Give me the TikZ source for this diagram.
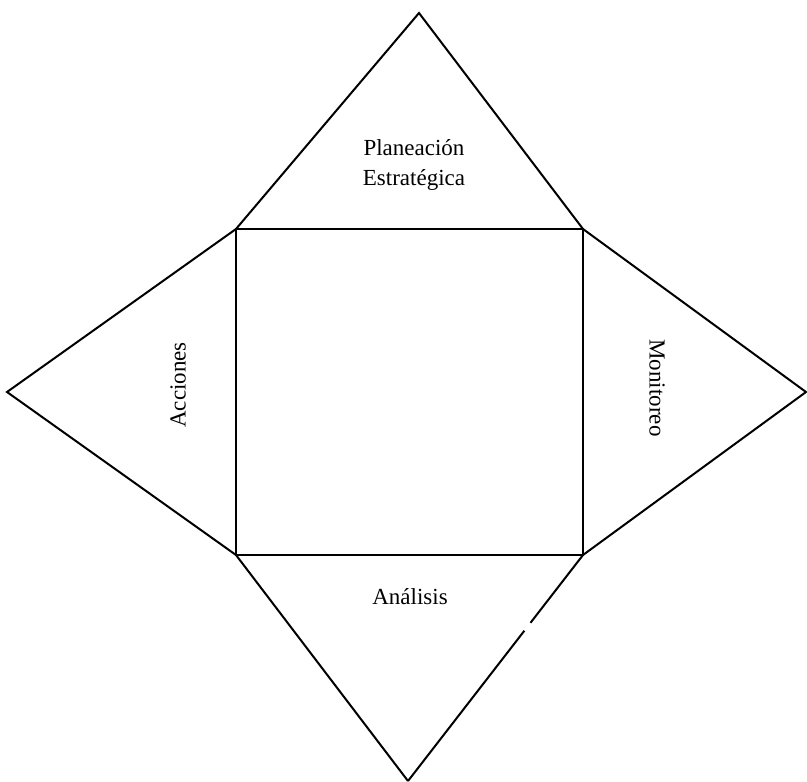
\documentclass[tikz,border=0pt]{standalone}
\usepackage{fontspec}
\setmainfont{Liberation Serif}
\usetikzlibrary{calc}
\begin{document}
\begin{tikzpicture}[x=1pt,y=-1pt,
  edge/.style={line width=2pt,line join=miter},
  lbl/.style={font=\fontsize{23}{30.6}\selectfont,align=center,inner sep=0pt}]
\useasboundingbox (0,0) rectangle (807,782);
\coordinate (tl) at (236,229);
\coordinate (tr) at (583,229);
\coordinate (br) at (583,555);
\coordinate (bl) at (236,555);
\coordinate (top) at (419,13);
\coordinate (left) at (7,392);
\coordinate (right) at (806,392);
\coordinate (bot) at (408,781);
\coordinate (gapA) at ($(br)!0.30!(bot)$);
\coordinate (gapB) at ($(br)!0.335!(bot)$);
\draw[edge] (tl) rectangle (br);
\draw[edge] (tl) -- (top) -- (tr);
\draw[edge] (tl) -- (left) -- (bl);
\draw[edge] (tr) -- (right) -- (br);
\draw[edge] (bl) -- (bot);
\draw[edge] (br) -- (gapA);
\draw[edge] (gapB) -- (bot);
\node[lbl] (plan) at (414,165) {Planeación\\Estratégica};
\node[lbl,rotate=90] (acc) at (178,385) {Acciones};
\node[lbl,rotate=-90] (mon) at (657,388) {Monitoreo};
\node[lbl] (ana) at (410,597) {Análisis};
\end{tikzpicture}
\end{document}
